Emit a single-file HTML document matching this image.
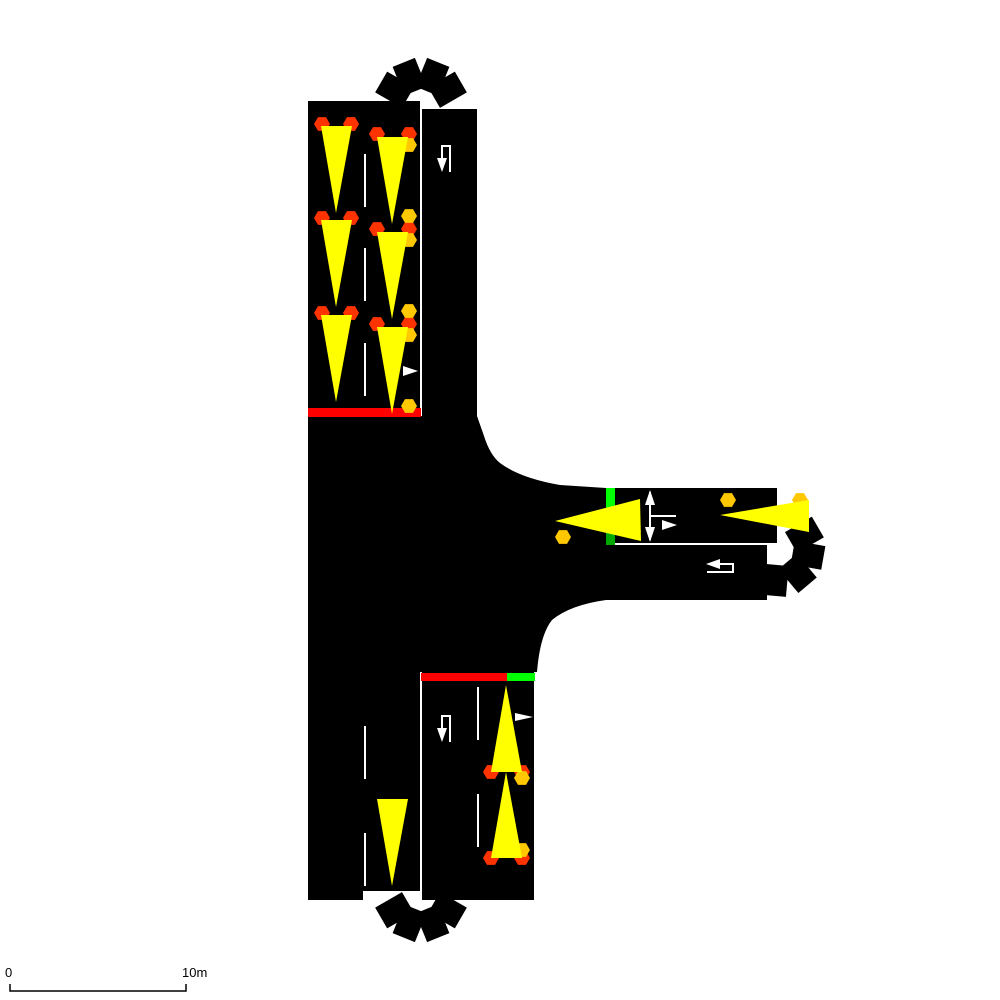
<!DOCTYPE html>
<html><head><meta charset="utf-8"><style>
html,body{margin:0;padding:0;background:#fff;}
svg{display:block;}
text{font-family:"Liberation Sans",sans-serif;}
</style></head><body>
<svg id="s" width="1000" height="1000" viewBox="0 0 1000 1000">
  <g>
    <rect x="308" y="101" width="113" height="320" fill="#000"/>
    <rect x="422" y="109" width="55" height="312" fill="#000"/>
    <path d="M308 416 L477 416 L484 436 Q490 455 500 463 Q520 478 560 485 L606 488 L606 600 Q570 605 552 620 Q540 635 537 672 L534 672 L534 900 L422 900 L422 891 L363 891 L363 900 L308 900 Z" fill="#000"/>
    <rect x="606" y="488" width="171" height="56" fill="#000"/>
    <rect x="606" y="545" width="161" height="55" fill="#000"/>
    <rect x="420" y="101" width="2" height="315" fill="#fff"/>
    <rect x="420" y="672" width="2" height="228" fill="#fff"/>
    <rect x="606" y="543" width="171" height="2" fill="#fff"/>
    <g fill="#fff">
      <rect x="364" y="154" width="2" height="53"/><rect x="364" y="248" width="2" height="53"/><rect x="364" y="343" width="2" height="53"/>
      <rect x="364" y="726" width="2" height="53"/><rect x="364" y="833" width="2" height="53"/>
      <rect x="477" y="687" width="2" height="53"/><rect x="477" y="794" width="2" height="53"/>
    </g>
    <g stroke="#fff" stroke-width="2" fill="none">
      <path d="M450 172 L450 146 L442 146 L442 160"/>
      <path d="M450 742 L450 716 L442 716 L442 730"/>
      <path d="M707 572 L733 572 L733 564 L718 564"/>
      <path d="M650 492 L650 540 M650 516 L676 516"/>
    </g>
    <g fill="#fff">
      <polygon points="437,158 447,158 442,172"/>
      <polygon points="437,728 447,728 442,742"/>
      <polygon points="720,559 720,569 706,564"/>
      <polygon points="645,505 655,505 650,490"/>
      <polygon points="645,527 655,527 650,542"/>
      <polygon points="662,520 662,530 677,525"/>
      <polygon points="403,366 403,376 418,371"/>
      <polygon points="515,713 515,721 533,717"/>
    </g>
  </g>
  <g>
    <rect x="308" y="408" width="113" height="9" fill="#f00"/>
    <rect x="421" y="673" width="86" height="8" fill="#f00"/>
    <rect x="507" y="673" width="28" height="8" fill="#0f0"/>
    <rect x="606" y="488" width="9" height="28" fill="#0f0"/>
    <rect x="606" y="516" width="9" height="29" fill="#0a0"/>
  </g>
  <g id="gears" fill="#000"></g>
  <g id="cars"></g>
  <g id="lights"></g>
  <g>
    <path d="M10 984 L10 991 L186 991 L186 984" stroke="#000" stroke-width="1.5" fill="none"/>
    <text x="5" y="977" font-size="13">0</text>
    <text x="182" y="977" font-size="13">10m</text>
  </g>
</svg>
<script>
const NS='http://www.w3.org/2000/svg';
const gears=document.getElementById('gears');
function gear(cx,cy,angles){
  angles.forEach(a=>{
    const r=document.createElementNS(NS,'rect');
    r.setAttribute('x',cx+15);r.setAttribute('y',cy-12);
    r.setAttribute('width',31);r.setAttribute('height',24);
    r.setAttribute('transform','rotate('+a+' '+cx+' '+cy+')');
    
    
    gears.appendChild(r);
  });
}
gear(421,105,[-150,-112,-68,-30]);
gear(421,895,[30,68,112,150]);
gear(778,550,[-30,10,50,95]);
const cars=document.getElementById('cars');
function car(pts){
  const p=document.createElementNS(NS,'polygon');
  p.setAttribute('points',pts);p.setAttribute('fill','#ff0');
  
  
  cars.appendChild(p);
}
const lights=document.getElementById('lights');
function hex(cx,cy,col){
  const r=8,pts=[];
  for(let i=0;i<6;i++){const a=Math.PI/3*i;pts.push((cx+r*Math.cos(a)).toFixed(1)+','+(cy+r*Math.sin(a)).toFixed(1));}
  const p=document.createElementNS(NS,'polygon');
  p.setAttribute('points',pts.join(' '));p.setAttribute('fill',col);
  
  
  lights.appendChild(p);
}
const RED='#ff3300',OR='#ffc800';
[126,220,315].forEach(y=>{hex(322,y-2,RED);hex(351,y-2,RED);});
[137,232,327].forEach(y=>{hex(377,y-3,RED);hex(409,y-3,RED);hex(409,y+8,OR);});
[216,311,406].forEach(y=>hex(409,y,OR));
hex(491,772,RED);hex(522,772,RED);hex(522,778,OR);
hex(491,858,RED);hex(522,858,RED);hex(522,850,OR);
hex(563,537,OR);hex(633,531,OR);hex(728,500,OR);hex(800,500,OR);
[126,220,315].forEach(y=>car('321,'+y+' 352,'+y+' 336,'+(y+87)));
[137,232,327].forEach(y=>car('377,'+y+' 408,'+y+' 392,'+(y+87)));
car('377,799 408,799 392,886');
car('491,772 522,772 506,685');
car('491,858 522,858 506,772');
car('640,499 641,541 555,521');
car('809,500 809,532 720,515');
lights.parentNode.insertBefore(cars,null);
</script>
</body></html>
